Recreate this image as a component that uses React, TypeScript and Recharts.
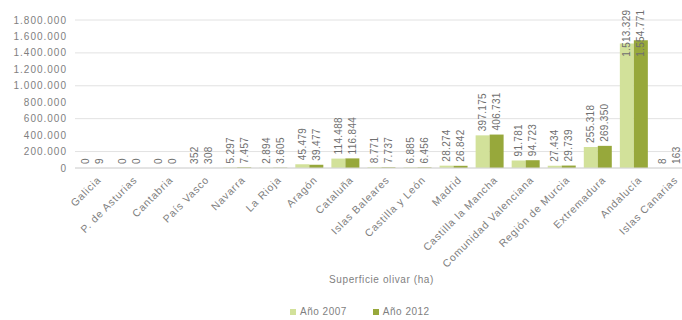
import React from "react";
import { BarChart, Bar, XAxis, YAxis, CartesianGrid, Legend, LabelList, Label } from "recharts";

const regions = [
  "Galicia",
  "P. de Asturias",
  "Cantabria",
  "País Vasco",
  "Navarra",
  "La Rioja",
  "Aragón",
  "Cataluña",
  "Islas Baleares",
  "Castilla y León",
  "Madrid",
  "Castilla la Mancha",
  "Comunidad Valenciana",
  "Región de Murcia",
  "Extremadura",
  "Andalucía",
  "Islas Canarias",
];
const values2007 = [0, 0, 0, 352, 5297, 2894, 45479, 114488, 8771, 6885, 28274, 397175, 91781, 27434, 255318, 1513329, 8];
const values2012 = [9, 0, 0, 308, 7457, 3605, 39477, 116844, 7737, 6456, 26842, 406731, 94723, 29739, 269350, 1554771, 163];
const yTicks = [0, 200000, 400000, 600000, 800000, 1000000, 1200000, 1400000, 1600000, 1800000];
const seriesNames = ["Año 2007", "Año 2012"];
const axisTitle = "Superficie olivar (ha)";

const COLOR_2007 = "#d2e19a";
const COLOR_2012 = "#97a83b";
const TEXT = "#7f7f7f";

const data = regions.map((r, i) => ({ region: r, a2007: values2007[i], a2012: values2012[i] }));

const fmt = (v: number) => String(Math.round(v)).replace(/\B(?=(\d{3})+(?!\d))/g, ".");

const DataLabel = (props: any) => {
  const { x, y, width, value } = props;
  const s = fmt(Number(value));
  const len = s.length * 5.2;
  const start = Math.max(y - 4, 10 + len);
  const cx = x + width / 2;
  return (
    <text
      transform={`translate(${cx},${start}) rotate(-90)`}
      textAnchor="start"
      dy="0.35em"
      fontSize={10}
      letterSpacing={0.3}
      fill="#6f6f6f"
      fontFamily="Liberation Sans, Arial, sans-serif"
    >
      {s}
    </text>
  );
};

const XTick = (props: any) => {
  const { x, y, payload } = props;
  return (
    <text
      transform={`translate(${x + 6},${y + 2}) rotate(-45)`}
      textAnchor="end"
      dy="0.35em"
      fontSize={10.5}
      letterSpacing={0.8}
      fill={TEXT}
      fontFamily="Liberation Sans, Arial, sans-serif"
    >
      {payload.value}
    </text>
  );
};

const LegendContent = () => (
  <div
    style={{
      display: "flex",
      alignItems: "center",
      fontFamily: "Liberation Sans, Arial, sans-serif",
      fontSize: 10,
      lineHeight: "12px",
      color: TEXT,
      letterSpacing: 0.5,
      whiteSpace: "nowrap",
    }}
  >
    {[COLOR_2007, COLOR_2012].map((c, i) => (
      <span key={i} style={{ display: "flex", alignItems: "center", marginRight: i === 0 ? 26 : 0 }}>
        <span style={{ display: "inline-block", width: 6, height: 6, background: c, marginRight: 4 }} />
        {seriesNames[i]}
      </span>
    ))}
  </div>
);

const minSize = (v: any) => (Number(v) === 0 ? 0.01 : 0);

export default function App() {
  return (
    <div style={{ position: "absolute", left: 0, top: 0, width: 682, height: 320, overflow: "hidden", background: "#fff" }}>
      <BarChart
        width={700}
        height={320}
        data={data}
        margin={{ top: 20, right: 12, left: 5, bottom: 0 }}
        barCategoryGap="11%"
        barGap={0}
      >
        <CartesianGrid vertical={false} stroke="#e2e2e2" />
        <XAxis
          dataKey="region"
          height={152}
          interval={0}
          tickLine={false}
          axisLine={{ stroke: "#d6d6d6" }}
          tick={<XTick />}
        >
          <Label
            value={axisTitle}
            position="insideBottom"
            offset={37}
            fontSize={10}
            fill={TEXT}
            letterSpacing={0.6}
            fontFamily="Liberation Sans, Arial, sans-serif"
          />
        </XAxis>
        <YAxis
          width={70}
          domain={[0, 1800000]}
          ticks={yTicks}
          tickFormatter={fmt}
          axisLine={false}
          tickLine={false}
          tick={{ fontSize: 10, fill: TEXT, letterSpacing: 1, fontFamily: "Liberation Sans, Arial, sans-serif" }}
        />
        <Legend
          layout="horizontal"
          verticalAlign="middle"
          align="center"
          wrapperStyle={{ top: 306, left: 290, width: "auto", height: "auto", lineHeight: "12px" }}
          content={<LegendContent />}
        />
        <Bar dataKey="a2007" name={seriesNames[0]} fill={COLOR_2007} minPointSize={minSize} isAnimationActive={false}>
          <LabelList dataKey="a2007" content={<DataLabel />} />
        </Bar>
        <Bar dataKey="a2012" name={seriesNames[1]} fill={COLOR_2012} minPointSize={minSize} isAnimationActive={false}>
          <LabelList dataKey="a2012" content={<DataLabel />} />
        </Bar>
      </BarChart>
    </div>
  );
}
